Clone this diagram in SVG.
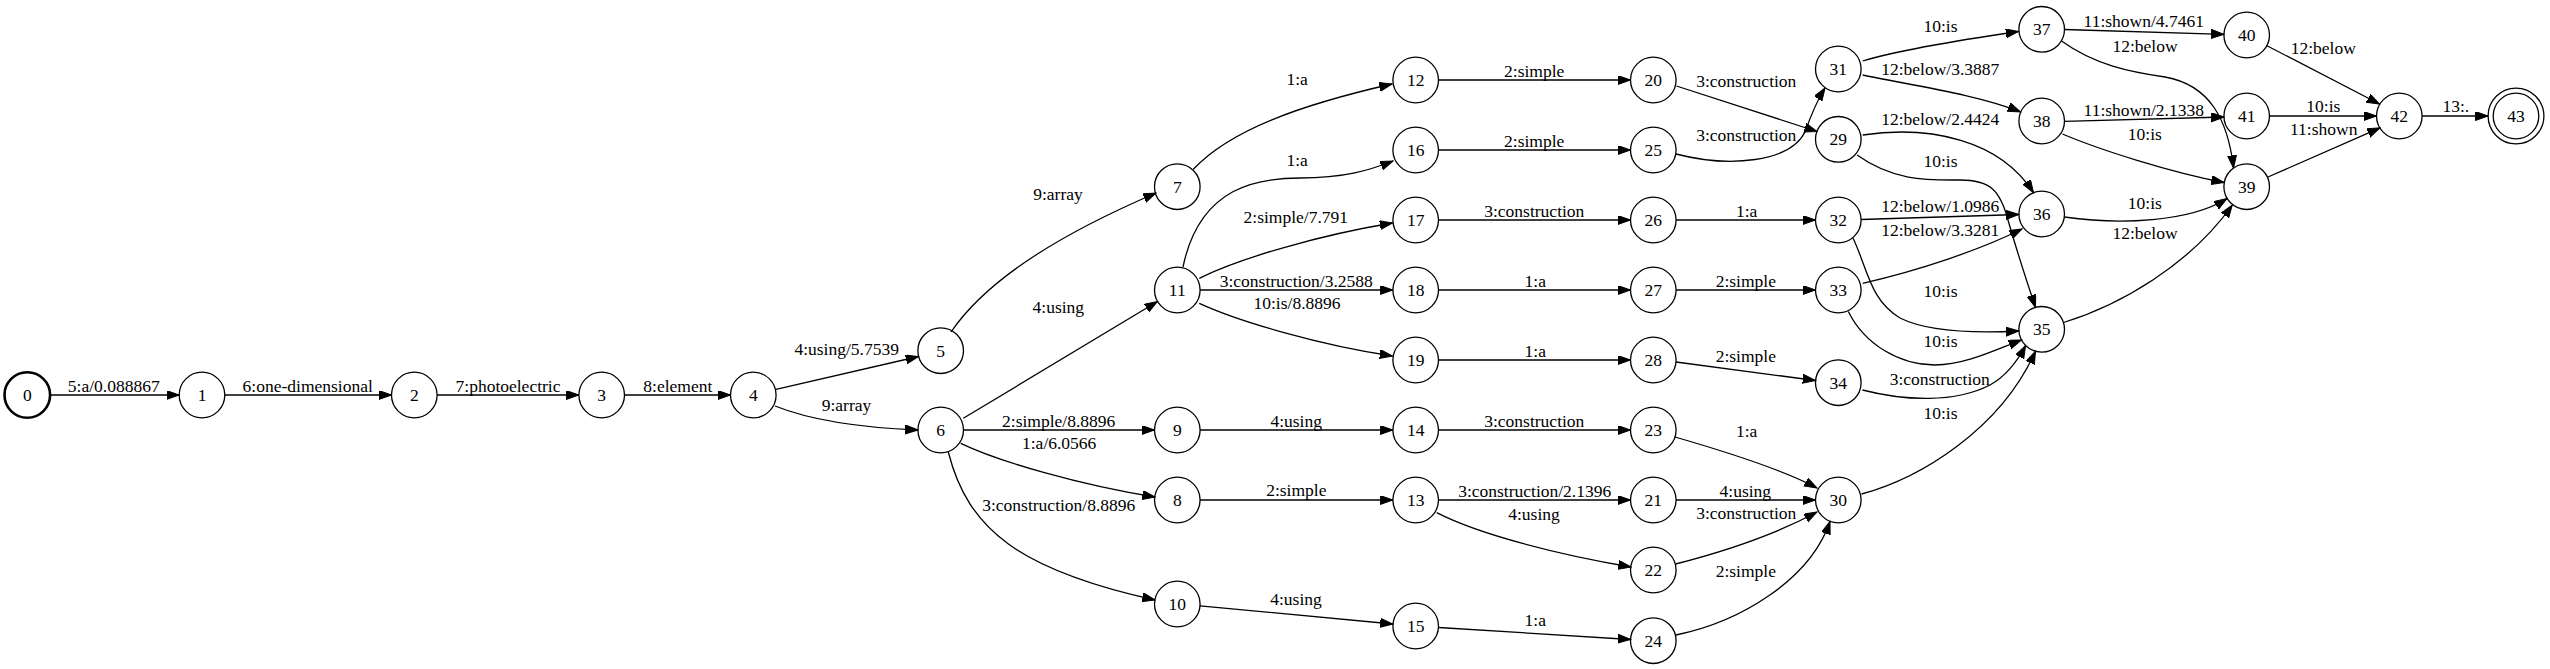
<svg xmlns="http://www.w3.org/2000/svg" width="2550" height="669" viewBox="0 0 2550 669">
<style>
.n circle{fill:none;stroke:#000;stroke-width:1.3}
.n text,.l{font-family:"Liberation Serif","Times New Roman",serif;font-size:17.5px;text-anchor:middle;fill:#000}
.e path{fill:none;stroke:#000;stroke-width:1.3;marker-end:url(#ah)}
</style>
<defs>
<marker id="ah" markerUnits="userSpaceOnUse" markerWidth="14" markerHeight="10" refX="12.7" refY="4.5" orient="auto">
<path d="M0,0 L12.7,4.5 L0,9 z" fill="#000" stroke="#000" stroke-width="1"/>
</marker>
</defs>
<rect width="2550" height="669" fill="#fff"/>
<g id="edges" class="e">
<path d="M50.1,395 L179.2,395"/>
<path d="M224.8,395 L391.5,395"/>
<path d="M437.1,395 L578.9,395"/>
<path d="M624.5,395 L730.5,395"/>
<path d="M776,389.3 L918.5,356.5"/>
<path d="M775,406 C815,422 870,428 918,430"/>
<path d="M951,332 C990,275 1070,230 1156,193"/>
<path d="M963.3,418.3 L1157.5,301.5"/>
<path d="M963.5,430 L1154.5,430"/>
<path d="M960.7,443.3 C1000,462 1080,485 1155,497"/>
<path d="M948.3,452 C968,530 1020,570 1155,600"/>
<path d="M1193.3,169.3 C1230,130 1300,105 1392,84"/>
<path d="M1183,267 C1200,185 1260,178 1300,178 C1345,178 1370,170 1393,161"/>
<path d="M1199.3,278.3 C1240,258 1320,235 1392.5,223"/>
<path d="M1200.1,290 L1392.9,290"/>
<path d="M1199.3,303.3 C1240,322 1320,345 1392.5,356"/>
<path d="M1200.1,430 L1392.9,430"/>
<path d="M1200.1,500 L1392.9,500"/>
<path d="M1200,605.8 L1392.9,624"/>
<path d="M1438.5,80 L1630.5,80"/>
<path d="M1438.5,150 L1630.5,150"/>
<path d="M1438.5,220 L1630.5,220"/>
<path d="M1438.5,290 L1630.5,290"/>
<path d="M1438.5,360 L1630.5,360"/>
<path d="M1438.5,430 L1630.5,430"/>
<path d="M1438.5,500 L1630.5,500"/>
<path d="M1436.7,512.7 C1480,535 1560,555 1631,567"/>
<path d="M1438.5,627.5 L1630.6,639.5"/>
<path d="M1676.5,86 L1817,131.5"/>
<path d="M1676,154 C1730,168 1790,162 1805,132 C1810,118 1816,102 1825,88"/>
<path d="M1676.1,220 L1815.5,220"/>
<path d="M1676.1,290 L1815.5,290"/>
<path d="M1676,362 L1815.5,380.5"/>
<path d="M1675,437 C1720,450 1780,468 1817,488"/>
<path d="M1676.1,500 L1815.5,500"/>
<path d="M1675.5,564 C1730,550 1780,532 1817,512"/>
<path d="M1676,635 C1740,622 1810,580 1830,521.5"/>
<path d="M1862.7,61 C1900,50 1960,40 2018.5,31.5"/>
<path d="M1862.7,75 C1910,85 1980,95 2020.5,112"/>
<path d="M1862.7,135 C1930,125 2000,140 2033.5,192.7"/>
<path d="M1857,155 C1895,182 1930,180 1960,180 C1990,180 2000,190 2008,220 C2018,255 2028,285 2035.5,307.4"/>
<path d="M1861.1,219.5 L2018.9,214.5"/>
<path d="M1862.7,283.3 C1920,270 1980,250 2022,229"/>
<path d="M1853,238 C1868,270 1870,300 1900,318 C1930,333 1980,333 2018.9,331"/>
<path d="M1848.3,311.5 C1865,345 1900,365 1935,365 C1965,365 1995,350 2021.5,340"/>
<path d="M1862.5,390 C1905,401 1955,403 1990,385 C2008,375 2018,360 2025.6,345.5"/>
<path d="M1861.5,494 C1920,478 2000,430 2035.5,351.2"/>
<path d="M2064.5,29.5 L2224,34.3"/>
<path d="M2061.5,41 C2095,65 2130,72 2165,77 C2210,85 2228,120 2233.5,168"/>
<path d="M2064.5,121.3 L2224,117"/>
<path d="M2062.5,134 C2100,150 2170,172 2224,182.5"/>
<path d="M2064.4,217 C2120,225 2190,222 2227,198.5"/>
<path d="M2063.5,322.5 C2120,305 2190,265 2232.3,205"/>
<path d="M2266.5,45.5 L2379.5,104"/>
<path d="M2269.5,116 L2376.5,116"/>
<path d="M2268,177 L2380,127.8"/>
<path d="M2422.1,116 L2488.1,116"/>
<text class="l" x="113.8" y="391.5">5:a/0.088867</text>
<text class="l" x="307.7" y="391.5">6:one-dimensional</text>
<text class="l" x="508" y="391.5">7:photoelectric</text>
<text class="l" x="677.8" y="391.5">8:element</text>
<text class="l" x="846.7" y="355">4:using/5.7539</text>
<text class="l" x="846.5" y="410.5">9:array</text>
<text class="l" x="1058" y="200">9:array</text>
<text class="l" x="1058.3" y="313.3">4:using</text>
<text class="l" x="1058.7" y="426.7">2:simple/8.8896</text>
<text class="l" x="1059.2" y="449.3">1:a/6.0566</text>
<text class="l" x="1058.8" y="510.7">3:construction/8.8896</text>
<text class="l" x="1297.2" y="85">1:a</text>
<text class="l" x="1297.2" y="166">1:a</text>
<text class="l" x="1295.8" y="222.7">2:simple/7.791</text>
<text class="l" x="1296.3" y="286.7">3:construction/3.2588</text>
<text class="l" x="1297" y="309.3">10:is/8.8896</text>
<text class="l" x="1296.2" y="426.7">4:using</text>
<text class="l" x="1296.3" y="495.7">2:simple</text>
<text class="l" x="1296" y="605">4:using</text>
<text class="l" x="1534.2" y="77.3">2:simple</text>
<text class="l" x="1534.2" y="147.3">2:simple</text>
<text class="l" x="1534.3" y="217.3">3:construction</text>
<text class="l" x="1535.3" y="287.3">1:a</text>
<text class="l" x="1535.3" y="356.7">1:a</text>
<text class="l" x="1534.3" y="426.7">3:construction</text>
<text class="l" x="1534.7" y="496.7">3:construction/2.1396</text>
<text class="l" x="1534" y="520">4:using</text>
<text class="l" x="1535.3" y="626">1:a</text>
<text class="l" x="1746.3" y="87.3">3:construction</text>
<text class="l" x="1746.3" y="140.7">3:construction</text>
<text class="l" x="1746.7" y="216.7">1:a</text>
<text class="l" x="1745.8" y="286.7">2:simple</text>
<text class="l" x="1745.8" y="361.7">2:simple</text>
<text class="l" x="1746.7" y="437.3">1:a</text>
<text class="l" x="1745.3" y="496.5">4:using</text>
<text class="l" x="1746.3" y="519.3">3:construction</text>
<text class="l" x="1745.8" y="576.7">2:simple</text>
<text class="l" x="1940.5" y="31.7">10:is</text>
<text class="l" x="1940.3" y="75">12:below/3.3887</text>
<text class="l" x="1940.3" y="125">12:below/2.4424</text>
<text class="l" x="1940.5" y="166.7">10:is</text>
<text class="l" x="1940.3" y="211.7">12:below/1.0986</text>
<text class="l" x="1940.3" y="236">12:below/3.3281</text>
<text class="l" x="1940.5" y="297.3">10:is</text>
<text class="l" x="1940.5" y="347.3">10:is</text>
<text class="l" x="1939.7" y="385">3:construction</text>
<text class="l" x="1940.5" y="419.3">10:is</text>
<text class="l" x="2143.8" y="26.7">11:shown/4.7461</text>
<text class="l" x="2145" y="51.7">12:below</text>
<text class="l" x="2143.8" y="115.7">11:shown/2.1338</text>
<text class="l" x="2144.8" y="140">10:is</text>
<text class="l" x="2144.8" y="209.3">10:is</text>
<text class="l" x="2145" y="239.3">12:below</text>
<text class="l" x="2323.3" y="54">12:below</text>
<text class="l" x="2323.3" y="111.7">10:is</text>
<text class="l" x="2323.7" y="135">11:shown</text>
<text class="l" x="2455.8" y="111.7">13:.</text>
</g>
<g id="node0" class="n"><circle cx="27.3" cy="395" r="22.8" style="stroke-width:2.6"/><text x="27.3" y="401">0</text></g>
<g id="node1" class="n"><circle cx="202" cy="395" r="22.8"/><text x="202" y="401">1</text></g>
<g id="node2" class="n"><circle cx="414.3" cy="395" r="22.8"/><text x="414.3" y="401">2</text></g>
<g id="node3" class="n"><circle cx="601.7" cy="395" r="22.8"/><text x="601.7" y="401">3</text></g>
<g id="node4" class="n"><circle cx="753.3" cy="395" r="22.8"/><text x="753.3" y="401">4</text></g>
<g id="node5" class="n"><circle cx="940.7" cy="350.7" r="22.8"/><text x="940.7" y="356.7">5</text></g>
<g id="node6" class="n"><circle cx="940.7" cy="430" r="22.8"/><text x="940.7" y="436">6</text></g>
<g id="node7" class="n"><circle cx="1177.3" cy="186.7" r="22.8"/><text x="1177.3" y="192.7">7</text></g>
<g id="node8" class="n"><circle cx="1177.3" cy="500" r="22.8"/><text x="1177.3" y="506">8</text></g>
<g id="node9" class="n"><circle cx="1177.3" cy="430" r="22.8"/><text x="1177.3" y="436">9</text></g>
<g id="node10" class="n"><circle cx="1177.3" cy="604" r="22.8"/><text x="1177.3" y="610">10</text></g>
<g id="node11" class="n"><circle cx="1177.3" cy="290" r="22.8"/><text x="1177.3" y="296">11</text></g>
<g id="node12" class="n"><circle cx="1415.7" cy="80" r="22.8"/><text x="1415.7" y="86">12</text></g>
<g id="node13" class="n"><circle cx="1415.7" cy="500" r="22.8"/><text x="1415.7" y="506">13</text></g>
<g id="node14" class="n"><circle cx="1415.7" cy="430" r="22.8"/><text x="1415.7" y="436">14</text></g>
<g id="node15" class="n"><circle cx="1415.7" cy="626" r="22.8"/><text x="1415.7" y="632">15</text></g>
<g id="node16" class="n"><circle cx="1415.7" cy="150" r="22.8"/><text x="1415.7" y="156">16</text></g>
<g id="node17" class="n"><circle cx="1415.7" cy="220" r="22.8"/><text x="1415.7" y="226">17</text></g>
<g id="node18" class="n"><circle cx="1415.7" cy="290" r="22.8"/><text x="1415.7" y="296">18</text></g>
<g id="node19" class="n"><circle cx="1415.7" cy="360" r="22.8"/><text x="1415.7" y="366">19</text></g>
<g id="node20" class="n"><circle cx="1653.3" cy="80" r="22.8"/><text x="1653.3" y="86">20</text></g>
<g id="node21" class="n"><circle cx="1653.3" cy="500" r="22.8"/><text x="1653.3" y="506">21</text></g>
<g id="node22" class="n"><circle cx="1653.3" cy="570" r="22.8"/><text x="1653.3" y="576">22</text></g>
<g id="node23" class="n"><circle cx="1653.3" cy="430" r="22.8"/><text x="1653.3" y="436">23</text></g>
<g id="node24" class="n"><circle cx="1653.3" cy="640.7" r="22.8"/><text x="1653.3" y="646.7">24</text></g>
<g id="node25" class="n"><circle cx="1653.3" cy="150" r="22.8"/><text x="1653.3" y="156">25</text></g>
<g id="node26" class="n"><circle cx="1653.3" cy="220" r="22.8"/><text x="1653.3" y="226">26</text></g>
<g id="node27" class="n"><circle cx="1653.3" cy="290" r="22.8"/><text x="1653.3" y="296">27</text></g>
<g id="node28" class="n"><circle cx="1653.3" cy="360" r="22.8"/><text x="1653.3" y="366">28</text></g>
<g id="node29" class="n"><circle cx="1838.3" cy="139.3" r="22.8"/><text x="1838.3" y="145.3">29</text></g>
<g id="node30" class="n"><circle cx="1838.3" cy="500" r="22.8"/><text x="1838.3" y="506">30</text></g>
<g id="node31" class="n"><circle cx="1838.3" cy="69" r="22.8"/><text x="1838.3" y="75">31</text></g>
<g id="node32" class="n"><circle cx="1838.3" cy="220" r="22.8"/><text x="1838.3" y="226">32</text></g>
<g id="node33" class="n"><circle cx="1838.3" cy="290" r="22.8"/><text x="1838.3" y="296">33</text></g>
<g id="node34" class="n"><circle cx="1838.3" cy="382.7" r="22.8"/><text x="1838.3" y="388.7">34</text></g>
<g id="node35" class="n"><circle cx="2041.7" cy="329.3" r="22.8"/><text x="2041.7" y="335.3">35</text></g>
<g id="node36" class="n"><circle cx="2041.7" cy="214" r="22.8"/><text x="2041.7" y="220">36</text></g>
<g id="node37" class="n"><circle cx="2041.7" cy="29.3" r="22.8"/><text x="2041.7" y="35.3">37</text></g>
<g id="node38" class="n"><circle cx="2041.7" cy="121" r="22.8"/><text x="2041.7" y="127">38</text></g>
<g id="node39" class="n"><circle cx="2246.7" cy="186.7" r="22.8"/><text x="2246.7" y="192.7">39</text></g>
<g id="node40" class="n"><circle cx="2246.7" cy="35" r="22.8"/><text x="2246.7" y="41">40</text></g>
<g id="node41" class="n"><circle cx="2246.7" cy="116" r="22.8"/><text x="2246.7" y="122">41</text></g>
<g id="node42" class="n"><circle cx="2399.3" cy="116" r="22.8"/><text x="2399.3" y="122">42</text></g>
<g id="node43" class="n"><circle cx="2516" cy="116" r="22.8"/><circle cx="2516" cy="116" r="27.9"/><text x="2516" y="122">43</text></g>
</svg>
